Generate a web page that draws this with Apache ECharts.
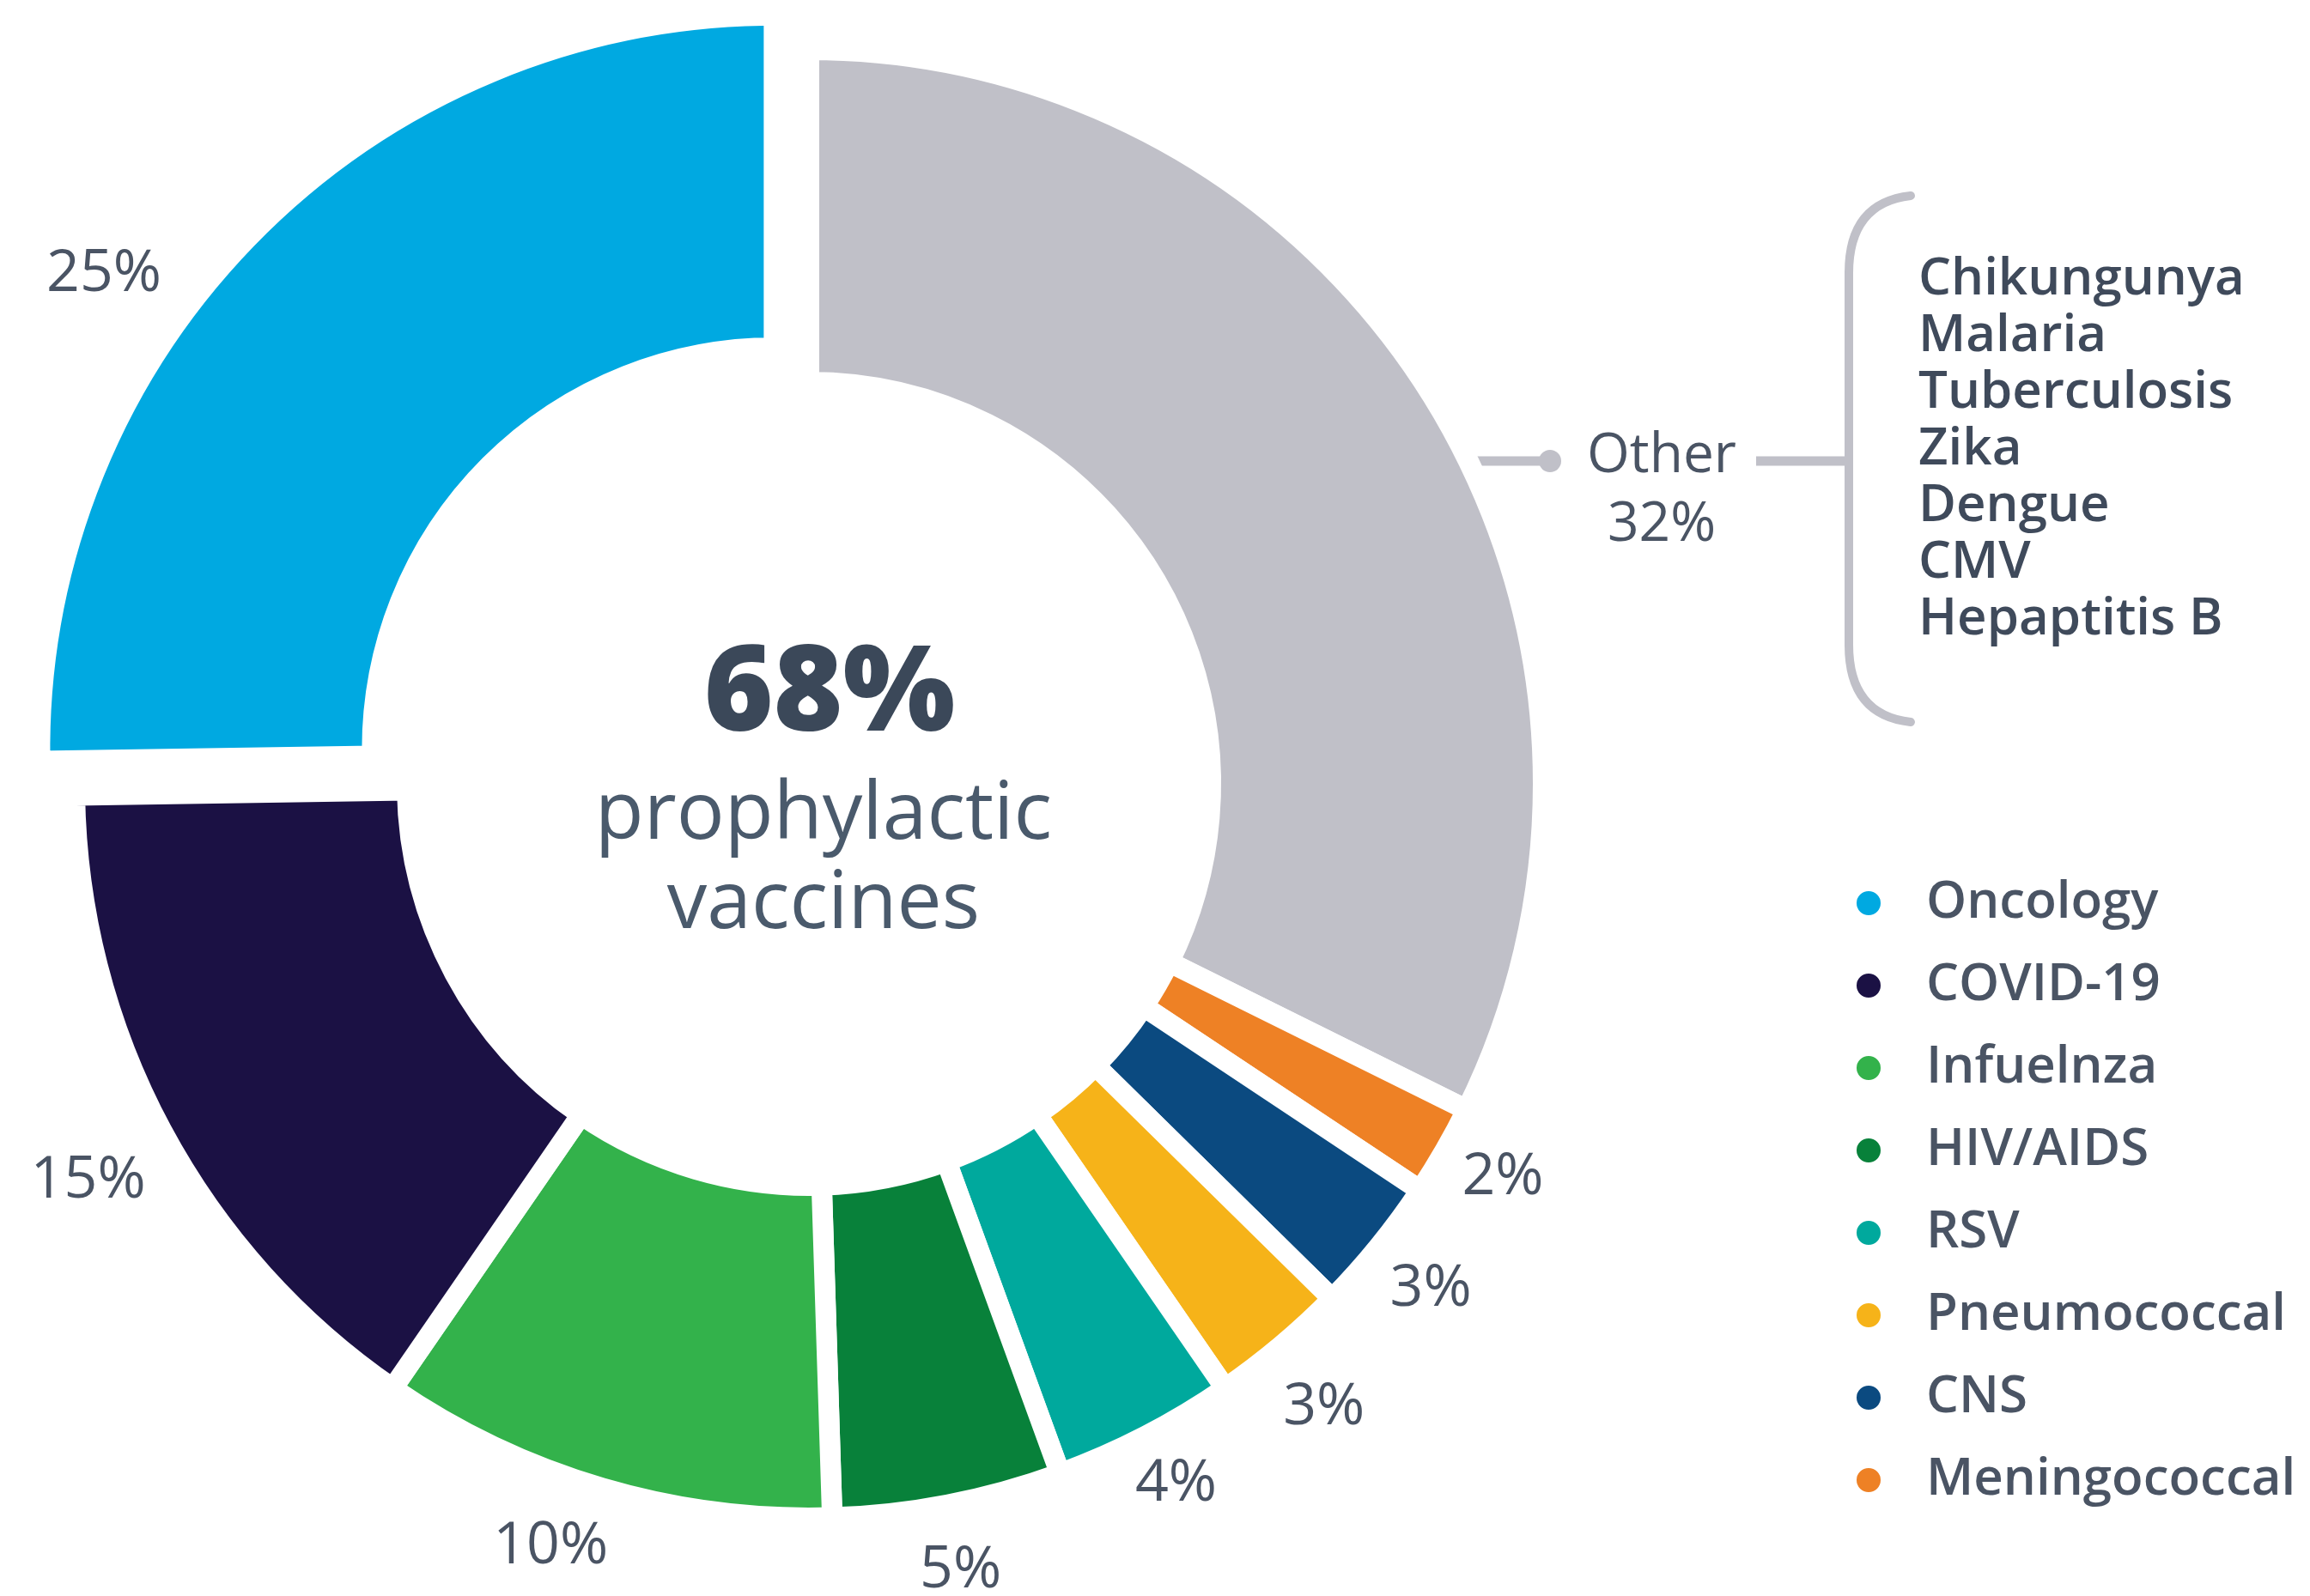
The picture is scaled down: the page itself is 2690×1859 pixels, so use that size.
<!DOCTYPE html>
<html>
<head>
<meta charset="utf-8">
<script src="https://cdn.jsdelivr.net/npm/echarts@6/dist/echarts.min.js"></script>
<style>
  html, body { margin: 0; padding: 0; background: #ffffff; }
  #chart { width: 2690px; height: 1859px; }
</style>
</head>
<body>
<div id="chart"></div>
<script>
// Vaccine pipeline share by therapeutic area (percent)
const categories = ['Other', 'Meningococcal', 'CNS', 'Pneumococcal', 'RSV', 'HIV/AIDS', 'Infuelnza', 'COVID-19', 'Oncology'];
const shares = [32, 2, 3, 3, 4, 5, 10, 15, 25];
const sliceColors = ['#C0C0C8', '#EE8125', '#0B4A80', '#F6B319', '#00A99D', '#08813A', '#33B24B', '#1B1144', '#00A9E1'];
const legendOrder = ['Oncology', 'COVID-19', 'Infuelnza', 'HIV/AIDS', 'RSV', 'Pneumococcal', 'CNS', 'Meningococcal'];
const otherDiseases = ['Chikungunya', 'Malaria', 'Tuberculosis', 'Zika', 'Dengue', 'CMV', 'Hepaptitis B'];
const prophylacticShare = 68;
const centerCaption = ['prophylactic', 'vaccines'];
const highlighted = 'Oncology';
const groupedName = 'Other';

// Layout
const CX = 942, CY = 913;
const R_IN = 468, R_OUT = 855;
const GAP = 24;
const TEXT = '#4A5464';
const LINE = '#C0C0C8';
const FONT = 'Open Sans';
// small hand nudges for the outer percent labels (px)
const labelNudge = {
  'Oncology': [-156, 61],
  'COVID-19': [-17, 22],
  'Infuelnza': [-38, -7],
  'RSV': [0, -14],
  'Pneumococcal': [0, 12],
  'Meningococcal': [0, -8]
};

const chart = echarts.init(document.getElementById('chart'), null, { renderer: 'canvas' });

const otherIdx = categories.indexOf(groupedName);
const ringData = categories.map((name, i) => ({
  name,
  value: shares[i],
  selected: name === highlighted,
  itemStyle: { color: sliceColors[i] }
}));
const labelData = categories.map((name, i) => ({
  name,
  value: shares[i],
  label: name === groupedName ? { show: false } : undefined
}));

// Leader and brace for the grouped slice
const leaderY = 537;
const visR = R_OUT - GAP / 2;
const leaderStartX = CX + Math.sqrt(visR * visR - (CY - leaderY) * (CY - leaderY)) - 40;
const dotX = 1805;
const otherTextX = 1935;
const bracketX = 2153;
const bracketTop = 228, bracketBottom = 841;
const braceReach = 72, braceBend = 90;
const listX = 2234;
const listLine = 66;
const braceStyle = { stroke: LINE, lineWidth: 10, fill: null, lineCap: 'round' };

chart.setOption({
  backgroundColor: '#ffffff',
  animation: false,
  legend: {
    data: legendOrder,
    orient: 'vertical',
    left: 2155,
    top: 1017,
    icon: 'circle',
    itemWidth: 30,
    itemHeight: 30,
    itemGap: 36,
    selectedMode: false,
    textStyle: {
      fontFamily: FONT,
      fontSize: 60,
      fontWeight: 600,
      color: TEXT,
      lineHeight: 60,
      padding: [0, 0, 0, 47]
    }
  },
  series: [
    {
      type: 'pie',
      name: 'ring',
      center: [CX, CY],
      radius: [R_IN, R_OUT],
      startAngle: 90,
      clockwise: true,
      selectedMode: 'single',
      selectedOffset: 57,
      avoidLabelOverlap: false,
      label: { show: false },
      labelLine: { show: false },
      itemStyle: { borderColor: '#ffffff', borderWidth: GAP },
      select: { itemStyle: { borderColor: '#ffffff', borderWidth: GAP } },
      emphasis: { disabled: true },
      data: ringData
    },
    {
      type: 'pie',
      name: 'labels',
      center: [CX, CY],
      radius: [860, 1000],
      startAngle: 90,
      clockwise: true,
      silent: true,
      avoidLabelOverlap: false,
      itemStyle: { color: 'transparent' },
      emphasis: { disabled: true },
      label: {
        show: true,
        position: 'inside',
        rotate: 0,
        formatter: '{c}%',
        fontFamily: FONT,
        fontSize: 68,
        color: TEXT
      },
      labelLine: { show: false },
      labelLayout: function (p) {
        const n = labelNudge[categories[p.dataIndex]];
        if (n) {
          return { dx: n[0], dy: n[1] };
        }
      },
      data: labelData
    }
  ],
  graphic: [
    // centre caption
    {
      type: 'text', x: 966, y: 812,
      style: {
        text: prophylacticShare + '%', fontFamily: FONT, fontSize: 138, fontWeight: 800,
        fill: '#3B4859', textAlign: 'center', textVerticalAlign: 'middle'
      }
    },
    {
      type: 'text', x: 959, y: 1002,
      style: {
        text: centerCaption.join('\n'), fontFamily: FONT, fontSize: 93, lineHeight: 104,
        fill: '#4A5A6C', textAlign: 'center', textVerticalAlign: 'middle'
      }
    },
    // grouped slice annotation
    {
      type: 'line',
      shape: { x1: leaderStartX, y1: leaderY, x2: dotX, y2: leaderY },
      style: { stroke: LINE, lineWidth: 11 }
    },
    {
      type: 'circle',
      shape: { cx: dotX, cy: leaderY, r: 13 },
      style: { fill: LINE }
    },
    {
      type: 'text', x: otherTextX, y: 572,
      style: {
        text: groupedName + '\n' + shares[otherIdx] + '%', fontFamily: FONT, fontSize: 64, lineHeight: 80,
        fill: TEXT, textAlign: 'center', textVerticalAlign: 'middle'
      }
    },
    {
      type: 'line',
      shape: { x1: 2045, y1: leaderY, x2: bracketX, y2: leaderY },
      style: { stroke: LINE, lineWidth: 11 }
    },
    {
      type: 'bezierCurve',
      shape: {
        x1: bracketX + braceReach, y1: bracketTop,
        cpx1: bracketX, cpy1: bracketTop + 8,
        x2: bracketX, y2: bracketTop + braceBend
      },
      style: braceStyle
    },
    {
      type: 'line',
      shape: { x1: bracketX, y1: bracketTop + braceBend, x2: bracketX, y2: bracketBottom - braceBend },
      style: braceStyle
    },
    {
      type: 'bezierCurve',
      shape: {
        x1: bracketX, y1: bracketBottom - braceBend,
        cpx1: bracketX, cpy1: bracketBottom - 8,
        x2: bracketX + braceReach, y2: bracketBottom
      },
      style: braceStyle
    },
    {
      type: 'text', x: listX, y: 524,
      style: {
        text: otherDiseases.join('\n'), fontFamily: FONT, fontSize: 60, fontWeight: 600, lineHeight: listLine,
        fill: '#3F4A5B', textAlign: 'left', textVerticalAlign: 'middle'
      }
    }
  ]
});
</script>
</body>
</html>
